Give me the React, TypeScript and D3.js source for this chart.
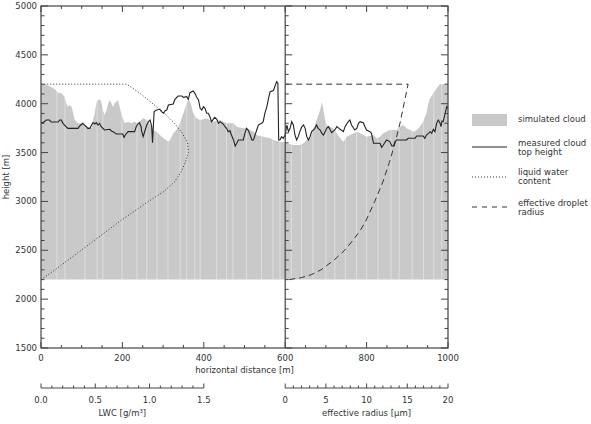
import React from "react";
import * as d3 from "d3";

// simulated cloud top: [horizontal distance m, height m]
const simulatedCloud: [number, number][] = [
  [0, 4200], [9, 4200], [21, 4181], [34, 4147], [42, 4113], [50, 4106], [58, 4072], [62, 4004], [66, 3970], [70, 3987],
  [75, 3970], [79, 3902], [83, 3833], [91, 3799], [99, 3799], [107, 3782], [115, 3765], [124, 3748], [128, 3833], [132, 3902],
  [136, 4004], [140, 4038], [144, 4045], [148, 4021], [152, 3936], [156, 3885], [161, 3936], [165, 4004], [169, 4038], [173, 4004],
  [177, 3970], [181, 4004], [185, 4021], [189, 4038], [193, 3970], [197, 3902], [201, 3850], [206, 3799], [214, 3816], [222, 3799],
  [230, 3816], [238, 3799], [246, 3833], [251, 3850], [260, 3833], [268, 3782], [276, 3731], [284, 3714], [292, 3680], [301, 3646],
  [313, 3612], [317, 3629], [325, 3697], [333, 3731], [341, 3799], [350, 3902], [358, 4004], [362, 4038], [366, 4021], [370, 3970],
  [374, 3902], [382, 3850], [391, 3833], [407, 3850], [423, 3816], [440, 3833], [456, 3799], [473, 3799], [481, 3765], [497, 3748],
  [505, 3748], [514, 3731], [522, 3714], [530, 3680], [546, 3663], [563, 3646], [571, 3629], [587, 3612], [600, 3605], [604, 3595],
  [620, 3578], [636, 3578], [645, 3595], [653, 3629], [661, 3663], [669, 3731], [677, 3833], [686, 3936], [690, 4021], [694, 3936],
  [698, 3833], [702, 3782], [710, 3765], [718, 3748], [727, 3697], [735, 3646], [743, 3612], [751, 3663], [759, 3680], [776, 3714],
  [784, 3697], [800, 3663], [817, 3680], [825, 3646], [833, 3663], [841, 3697], [857, 3731], [874, 3731], [882, 3765], [890, 3782],
  [898, 3748], [907, 3731], [915, 3714], [923, 3731], [931, 3765], [939, 3816], [947, 3902], [952, 4004], [956, 4055], [964, 4106],
  [972, 4157], [980, 4200], [1000, 4200],
];

// measured cloud top height: [horizontal distance m, height m]
const measuredTop: [number, number][] = [
  [0, 3806], [5, 3806], [13, 3833], [21, 3833], [25, 3813], [42, 3813], [46, 3833], [50, 3833], [54, 3799], [58, 3782],
  [66, 3748], [91, 3748], [95, 3772], [103, 3799], [107, 3782], [111, 3765], [115, 3748], [120, 3748], [124, 3782], [128, 3806],
  [132, 3792], [136, 3806], [140, 3782], [144, 3799], [148, 3765], [156, 3731], [169, 3738], [173, 3721], [177, 3714], [185, 3690],
  [201, 3690], [204, 3656], [207, 3680], [214, 3714], [230, 3714], [234, 3765], [238, 3792], [242, 3806], [246, 3765], [247, 3724],
  [251, 3663], [256, 3731], [260, 3782], [264, 3816], [268, 3833], [272, 3765], [274, 3601], [276, 3765], [278, 3919], [284, 3936],
  [292, 3943], [296, 3919], [301, 3902], [305, 3929], [309, 3936], [313, 3987], [325, 3997], [329, 4045], [337, 4079], [346, 4079],
  [350, 4065], [358, 4072], [362, 4045], [366, 4113], [374, 4130], [378, 4106], [382, 4072], [387, 4038], [391, 3953], [395, 3936],
  [399, 3970], [403, 3953], [407, 3902], [411, 3902], [415, 3867], [419, 3816], [423, 3840], [427, 3861], [432, 3840], [436, 3799],
  [440, 3816], [448, 3792], [452, 3765], [456, 3748], [460, 3714], [464, 3724], [468, 3680], [473, 3629], [477, 3567], [481, 3595],
  [485, 3629], [497, 3629], [501, 3697], [505, 3748], [509, 3731], [514, 3680], [518, 3629], [522, 3629], [526, 3680], [530, 3731],
  [534, 3782], [542, 3799], [546, 3816], [550, 3902], [555, 3970], [559, 4055], [563, 4123], [571, 4134], [575, 4181], [579, 4226],
  [582, 4209], [584, 3629], [587, 3629], [591, 3663], [595, 3646], [600, 3680], [604, 3782], [608, 3714], [612, 3748], [616, 3816],
  [620, 3782], [624, 3680], [628, 3629], [632, 3663], [636, 3714], [641, 3765], [645, 3782], [649, 3748], [653, 3663], [657, 3629],
  [661, 3663], [665, 3714], [673, 3748], [677, 3782], [681, 3748], [686, 3731], [690, 3697], [694, 3680], [698, 3714], [702, 3748],
  [706, 3765], [710, 3738], [714, 3704], [722, 3731], [727, 3765], [735, 3738], [743, 3714], [747, 3765], [751, 3792], [755, 3816],
  [759, 3833], [763, 3782], [771, 3731], [776, 3748], [780, 3799], [784, 3816], [792, 3806], [796, 3765], [800, 3731], [808, 3714],
  [812, 3697], [817, 3595], [833, 3595], [837, 3554], [841, 3578], [849, 3629], [857, 3612], [862, 3567], [866, 3567], [870, 3612],
  [874, 3629], [898, 3629], [902, 3646], [919, 3646], [923, 3670], [939, 3670], [943, 3646], [947, 3680], [952, 3697], [956, 3714],
  [960, 3697], [964, 3738], [968, 3714], [972, 3799], [976, 3833], [980, 3806], [983, 3765], [985, 3823], [988, 3816], [992, 3884],
  [997, 3970], [1000, 3953],
];

// liquid water content profile: [height m, LWC g/m3]
const lwcProfile: [number, number][] = [
  [2200, 0], [2300, 0.13], [2400, 0.25], [2500, 0.37], [2600, 0.49], [2700, 0.61], [2800, 0.73], [2900, 0.86],
  [3000, 0.99], [3100, 1.13], [3200, 1.23], [3300, 1.29], [3400, 1.33], [3500, 1.36], [3600, 1.35], [3700, 1.3],
  [3800, 1.23], [3900, 1.14], [4000, 1.03], [4100, 0.92], [4200, 0.79], [4200, 0],
];

// effective droplet radius profile: [height m, radius um]
const reffProfile: [number, number][] = [
  [2200, 0.5], [2220, 2.0], [2250, 3.2], [2300, 4.4], [2400, 6.0], [2500, 7.3], [2600, 8.3], [2700, 9.2],
  [2800, 9.9], [3000, 11.0], [3200, 12.0], [3400, 12.8], [3600, 13.5], [3800, 14.1], [4000, 14.6], [4200, 15.1],
  [4200, 0],
];

// column boundaries of the simulated cloud (show as light seams)
const seamDist = [39, 59, 108, 138, 152, 199, 236, 260, 285, 312, 342, 358, 378, 391, 432, 456, 472, 505, 542, 570,
  587, 615, 640, 668, 700, 722, 748, 775, 800, 828, 860, 880, 912, 940, 965, 985];

const cloudBase = 2200;
const xTickLabels = [0, 200, 400, 600, 800, 1000];
const yTickLabels = [1500, 2000, 2500, 3000, 3500, 4000, 4500, 5000];
const lwcTickLabels = [0, 0.5, 1.0, 1.5];
const reffTickLabels = [0, 5, 10, 15, 20];

const font = "'DejaVu Sans', sans-serif";
const axisColor = "#444";
const textColor = "#333";
const cloudGrey = "#c9c9c9";

export default function App() {
  const W = 591;
  const H = 424;

  const x = d3.scaleLinear().domain([0, 1000]).range([41, 448]);
  const y = d3.scaleLinear().domain([1500, 5000]).range([348, 6]);
  const xSplit = x(600);
  const lwcX = d3.scaleLinear().domain([0, 1.5]).range([x(0), x(400)]);
  const reX = d3.scaleLinear().domain([0, 20]).range([xSplit, x(1000)]);

  const cloudArea = d3
    .area<[number, number]>()
    .x(d => x(d[0]))
    .y0(y(cloudBase))
    .y1(d => y(d[1]));

  const topLine = d3
    .line<[number, number]>()
    .x(d => x(d[0]))
    .y(d => y(d[1]));

  const lwcLine = d3
    .line<[number, number]>()
    .x(d => lwcX(d[1]))
    .y(d => y(d[0]));

  const reffLine = d3
    .line<[number, number]>()
    .x(d => reX(d[1]))
    .y(d => y(d[0]));

  const [y0, y1] = y.range();
  const [x0, x1] = x.range();

  const yMinor = d3.range(1500, 5001, 100);
  const xMinor = d3.range(0, 1001, 50);
  const lwcMinor = d3.range(0, 16).map(i => i / 10);
  const reffMinor = d3.range(0, 21);
  const subAxisY = 388;

  const txt = {
    fontFamily: font,
    fontSize: 8.5,
    fill: textColor,
  } as const;

  return (
    <div style={{ position: "absolute", left: 0, top: 0 }}>
      <svg width={W} height={H} style={{ display: "block", background: "#fff" }}>
        <defs>
          <clipPath id="cloud-clip">
            <path d={cloudArea(simulatedCloud) || ""} />
          </clipPath>
        </defs>

        {/* simulated cloud */}
        <path d={cloudArea(simulatedCloud) || ""} fill={cloudGrey} />
        <g clipPath="url(#cloud-clip)">
          {seamDist.map(d => (
            <line key={d} x1={x(d)} x2={x(d)} y1={y(cloudBase)} y2={y(5000)}
              stroke="#fff" strokeOpacity={0.5} strokeWidth={0.8} />
          ))}
        </g>

        {/* liquid water content */}
        <path d={lwcLine(lwcProfile) || ""} fill="none" stroke="#333" strokeWidth={1} strokeDasharray="1 2" />
        {/* effective droplet radius */}
        <path d={reffLine(reffProfile) || ""} fill="none" stroke="#333" strokeWidth={1} strokeDasharray="6 4" />
        {/* measured cloud top height */}
        <path d={topLine(measuredTop) || ""} fill="none" stroke="#222" strokeWidth={1.1} />

        {/* frame */}
        <rect x={x0} y={y1} width={x1 - x0} height={y0 - y1} fill="none" stroke={axisColor} strokeWidth={1.2} />
        <line x1={xSplit} x2={xSplit} y1={y1} y2={y0} stroke={axisColor} strokeWidth={1.2} />

        {/* y ticks */}
        {yMinor.map(v => {
          const major = v % 500 === 0;
          const len = major ? 7 : 3.5;
          const yy = y(v);
          return (
            <g key={"y" + v} stroke={axisColor} strokeWidth={1}>
              <line x1={x0} x2={x0 + len} y1={yy} y2={yy} />
              <line x1={xSplit} x2={xSplit + len} y1={yy} y2={yy} />
              <line x1={x1} x2={x1 - len} y1={yy} y2={yy} />
            </g>
          );
        })}
        {yTickLabels.map(v => (
          <text key={"yl" + v} x={x0 - 4} y={y(v)} dy="0.35em" textAnchor="end" style={txt}>{v}</text>
        ))}
        <text transform={`translate(6,${(y0 + y1) / 2}) rotate(-90)`} dy="0.35em" textAnchor="middle" style={txt}>
          height [m]
        </text>

        {/* x ticks */}
        {xMinor.map(v => {
          const major = v % 200 === 0;
          const len = major ? 6 : 3;
          const xx = x(v);
          return (
            <g key={"x" + v} stroke={axisColor} strokeWidth={1}>
              <line x1={xx} x2={xx} y1={y0} y2={y0 - len} />
              <line x1={xx} x2={xx} y1={y1} y2={y1 + len} />
            </g>
          );
        })}
        {xTickLabels.map(v => (
          <text key={"xl" + v} x={x(v)} y={358} dy="0.35em" textAnchor="middle" style={txt}>{v}</text>
        ))}
        <text x={(x0 + x1) / 2} y={370} dy="0.35em" textAnchor="middle" style={txt}>horizontal distance [m]</text>

        {/* LWC axis */}
        <line x1={lwcX(0)} x2={lwcX(1.5)} y1={subAxisY} y2={subAxisY} stroke={axisColor} strokeWidth={1} />
        {lwcMinor.map(v => {
          const major = Math.round(v * 10) % 5 === 0;
          return (
            <line key={"lw" + v} x1={lwcX(v)} x2={lwcX(v)} y1={subAxisY} y2={subAxisY - (major ? 4.5 : 2.5)}
              stroke={axisColor} strokeWidth={1} />
          );
        })}
        {lwcTickLabels.map(v => (
          <text key={"lwl" + v} x={lwcX(v)} y={400} dy="0.35em" textAnchor="middle" style={txt}>{v.toFixed(1)}</text>
        ))}
        <text x={(lwcX(0) + lwcX(1.5)) / 2} y={413} dy="0.35em" textAnchor="middle" style={txt}>LWC [g/m³]</text>

        {/* effective radius axis */}
        <line x1={reX(0)} x2={reX(20)} y1={subAxisY} y2={subAxisY} stroke={axisColor} strokeWidth={1} />
        {reffMinor.map(v => (
          <line key={"re" + v} x1={reX(v)} x2={reX(v)} y1={subAxisY} y2={subAxisY - (v % 5 === 0 ? 4.5 : 2.5)}
            stroke={axisColor} strokeWidth={1} />
        ))}
        {reffTickLabels.map(v => (
          <text key={"rel" + v} x={reX(v)} y={400} dy="0.35em" textAnchor="middle" style={txt}>{v}</text>
        ))}
        <text x={(reX(0) + reX(20)) / 2} y={413} dy="0.35em" textAnchor="middle" style={txt}>effective radius [μm]</text>

        {/* legend */}
        <g>
          <rect x={472} y={114} width={35} height={12} fill={cloudGrey} />
          <text x={518} y={119} dy="0.35em" style={txt}>simulated cloud</text>

          <line x1={472} x2={507} y1={147} y2={147} stroke="#222" strokeWidth={1.1} />
          <text x={518} y={143} dy="0.35em" style={txt}>measured cloud</text>
          <text x={518} y={152} dy="0.35em" style={txt}>top height</text>

          <line x1={472} x2={507} y1={177} y2={177} stroke="#333" strokeWidth={1} strokeDasharray="1 2" />
          <text x={518} y={172} dy="0.35em" style={txt}>liquid water</text>
          <text x={518} y={181} dy="0.35em" style={txt}>content</text>

          <line x1={472} x2={507} y1={207} y2={207} stroke="#333" strokeWidth={1} strokeDasharray="5 5" />
          <text x={518} y={203} dy="0.35em" style={txt}>effective droplet</text>
          <text x={518} y={212} dy="0.35em" style={txt}>radius</text>
        </g>
      </svg>
    </div>
  );
}
